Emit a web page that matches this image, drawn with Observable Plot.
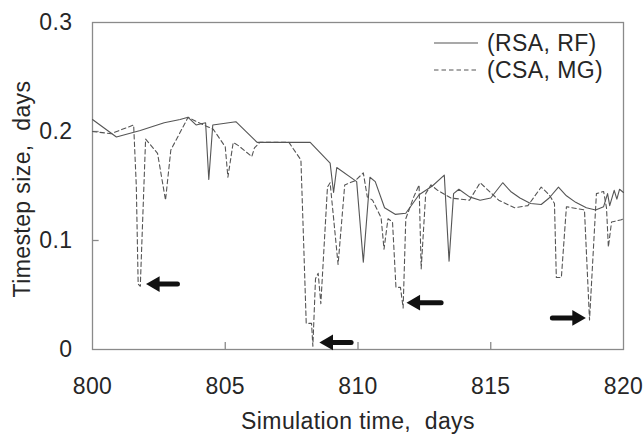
<!DOCTYPE html>
<html>
<head>
<meta charset="utf-8">
<script src="https://cdn.jsdelivr.net/npm/d3@7"></script>
<script src="https://cdn.jsdelivr.net/npm/@observablehq/plot@0.6"></script>
<style>
  html, body { margin: 0; padding: 0; background: #fff; }
</style>
</head>
<body>
<div id="chart"></div>
<script>
// ---- data ----
const seriesNames = ["(RSA, RF)", "(CSA, MG)"];
const xTicks = [800, 805, 810, 815, 820];
const yTicks = [0, 0.1, 0.2, 0.3];
const xTitle = "Simulation time,  days";
const yTitle = "Timestep size,  days";

const solidT = [800.0, 800.9, 801.8, 802.7, 803.3, 803.6, 803.9, 804.26, 804.38, 804.53, 805.4, 806.2, 807.2, 808.2,
  808.95, 809.08, 809.2, 809.95, 810.2, 810.45, 810.65, 811.0, 811.4, 811.8, 812.3, 812.8, 813.25, 813.43, 813.6, 813.8,
  814.2, 814.6, 815.0, 815.45, 815.75, 816.1, 816.5, 816.9, 817.2, 817.55, 817.85, 818.2, 818.6, 818.95, 819.25, 819.4,
  819.48, 819.65, 819.75, 819.85, 820.0];
const solidV = [0.211, 0.195, 0.201, 0.208, 0.211, 0.213, 0.206, 0.208, 0.156, 0.206, 0.209, 0.190, 0.190, 0.190,
  0.171, 0.144, 0.167, 0.154, 0.080, 0.158, 0.154, 0.130, 0.124, 0.125, 0.142, 0.150, 0.160, 0.081, 0.143, 0.147,
  0.140, 0.137, 0.139, 0.153, 0.145, 0.139, 0.134, 0.133, 0.139, 0.149, 0.141, 0.135, 0.130, 0.128, 0.131, 0.143,
  0.132, 0.146, 0.138, 0.147, 0.144];

const dashT = [800.0, 800.7, 801.55, 801.65, 801.72, 801.8, 802.0, 802.45, 802.75, 802.95, 803.6, 804.1, 804.55, 805.0,
  805.1, 805.3, 805.5, 806.0, 806.1, 806.3, 807.4, 807.65, 807.85, 807.95, 808.05, 808.25, 808.3, 808.4, 808.5, 808.6,
  808.85, 808.95, 809.25, 809.5, 809.9, 810.2, 810.35, 810.55, 810.87, 810.98, 811.13, 811.3, 811.43, 811.6, 811.7,
  811.8, 812.1, 812.3, 812.38, 812.55, 812.75, 813.0, 813.5, 814.2, 814.6, 815.3, 815.9, 816.4, 816.9, 817.2, 817.4,
  817.47, 817.66, 817.85, 818.53, 818.72, 818.98, 819.25, 819.36, 819.43, 819.55, 819.92, 820.0];
const dashV = [0.200, 0.198, 0.206, 0.150, 0.060, 0.058, 0.193, 0.180, 0.137, 0.183, 0.213, 0.207, 0.202, 0.186,
  0.158, 0.190, 0.187, 0.177, 0.185, 0.190, 0.190, 0.181, 0.174, 0.100, 0.024, 0.024, 0.003, 0.065, 0.070, 0.042,
  0.149, 0.153, 0.078, 0.151, 0.155, 0.162, 0.140, 0.137, 0.121, 0.092, 0.120, 0.117, 0.057, 0.057, 0.038,
  0.120, 0.140, 0.151, 0.074, 0.143, 0.151, 0.146, 0.139, 0.137, 0.153, 0.137, 0.130, 0.132, 0.149, 0.142, 0.134,
  0.066, 0.066, 0.131, 0.128, 0.027, 0.143, 0.145, 0.130, 0.094, 0.117, 0.119, 0.120];

// annotation arrows (tail time, tip time, value)
const arrowTail = [803.2, 809.74, 813.13, 817.32];
const arrowTip = [802.0, 808.53, 811.81, 818.6];
const arrowV = [0.060, 0.0065, 0.043, 0.029];

// ---- build tables ----
const solid = solidT.map((t, i) => ({t, v: solidV[i]}));
const dashed = dashT.map((t, i) => ({t, v: dashV[i]}));
const arrows = arrowTail.map((t, i) => ({t1: t, t2: arrowTip[i], v: arrowV[i]}));
const leftArrows = arrows.filter(d => d.t2 < d.t1);
const rightArrows = arrows.filter(d => d.t2 > d.t1);

const ink = "#262626";
const lineColor = "#555";
const frameColor = "#8a8a8a";
const dash = "4.5,3";
const font = "'Liberation Sans', Arial, sans-serif";
const fs = 23;

const chart = Plot.plot({
  width: 643,
  height: 434,
  marginLeft: 92,
  marginRight: 20,
  marginTop: 22,
  marginBottom: 85,
  style: {fontFamily: font, fontSize: fs + "px", color: ink, background: "#fff", letterSpacing: "0.4px"},
  x: {domain: [800, 820]},
  y: {domain: [0, 0.3]},
  marks: [
    Plot.frame({stroke: frameColor, strokeWidth: 1.3}),
    Plot.ruleX([805, 810, 815], {y1: 0, y2: 0.0065, stroke: frameColor, strokeWidth: 1.3}),
    Plot.ruleY([0.1, 0.2], {x1: 800, x2: 800.25, stroke: frameColor, strokeWidth: 1.3}),
    Plot.axisX({ticks: xTicks, tickSize: 0, tickPadding: 28, tickFormat: d => String(d), fontSize: fs, label: null}),
    Plot.axisY({ticks: yTicks, tickSize: 0, tickPadding: 20, tickFormat: d => d === 0 ? "0" : d.toFixed(1), fontSize: fs, label: null}),
    Plot.text([xTitle], {frameAnchor: "bottom", dy: 72, textAnchor: "middle", lineAnchor: "middle", fontSize: fs, fill: ink}),
    Plot.text([yTitle], {frameAnchor: "left", dx: -70, dy: 3, rotate: -90, textAnchor: "middle", lineAnchor: "middle", fontSize: fs, fill: ink}),
    Plot.line(dashed, {x: "t", y: "v", stroke: lineColor, strokeWidth: 1.1, strokeDasharray: dash}),
    Plot.line(solid, {x: "t", y: "v", stroke: lineColor, strokeWidth: 1.1}),
    Plot.arrow(arrows, {x1: "t1", y1: "v", x2: "t2", y2: "v", stroke: "#111", strokeWidth: 5, headLength: 0, insetEnd: 11}),
    Plot.dot(leftArrows, {x: "t2", y: "v", symbol: "triangle2", r: 7.5, rotate: -90, dx: 9.5, fill: "#111", stroke: "none"}),
    Plot.dot(rightArrows, {x: "t2", y: "v", symbol: "triangle2", r: 7.5, rotate: 90, dx: -9.5, fill: "#111", stroke: "none"})
  ]
});

// legend inside the plot, top-right
const svg = d3.select(chart);
const lg = svg.append("g")
  .attr("font-family", font).attr("font-size", fs).attr("fill", ink)
  .attr("text-anchor", "start").style("letter-spacing", "0.4px");
const rows = [{y: 43, dashArr: "none"}, {y: 70, dashArr: dash}];
rows.forEach((r, i) => {
  lg.append("line").attr("x1", 434).attr("x2", 478).attr("y1", r.y).attr("y2", r.y)
    .attr("stroke", lineColor).attr("stroke-width", 1.1).attr("stroke-dasharray", r.dashArr);
  lg.append("text").attr("x", 487).attr("y", r.y).attr("dy", "0.35em").text(seriesNames[i]);
});

document.getElementById("chart").appendChild(chart);
</script>
</body>
</html>
